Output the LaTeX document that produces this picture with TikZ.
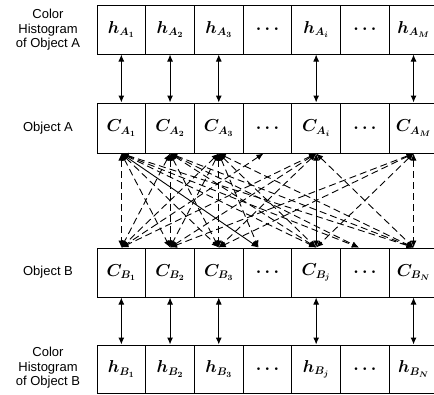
\documentclass[tikz,border=0pt]{standalone}
\usepackage{fontspec}
\setsansfont{Liberation Sans}
\usetikzlibrary{arrows.meta}

\tikzset{
  cell/.style={draw, line width=1pt, minimum width=48.7pt, minimum height=49pt,
               inner sep=0pt, font=\fontsize{16}{19}\selectfont\boldmath},
  rowlabel/.style={align=center, font=\sffamily\fontsize{13}{14.5}\selectfont},
  link/.style={line width=1pt, {Latex[length=7pt,width=6pt]}-{Latex[length=7pt,width=6pt]}},
  match/.style={line width=0.9pt, dash pattern=on 7pt off 4pt,
                {Latex[length=7pt,width=6pt]}-{Latex[length=7pt,width=6pt]}},
  sure/.style={line width=0.9pt,
               {Latex[length=7pt,width=6pt]}-{Latex[length=7pt,width=6pt]}},
}

\begin{document}
\begin{tikzpicture}[x=1pt, y=-1pt]
\useasboundingbox (0,0) rectangle (434,394);
\fill[white] (0,0) rectangle (434,394);

% row labels
\node[rowlabel] (lhA) at (48,30) {Color\\Histogram\\of Object A};
\node[rowlabel] (lcA) at (48,128) {Object A};
\node[rowlabel] (lcB) at (48,272) {Object B};
\node[rowlabel] (lhB) at (48,368) {Color\\Histogram\\of Object B};

% four rows of cells
\foreach \k/\ha/\ca/\cb/\hb in {
  1/{h_{A_1}}/{C_{A_1}}/{C_{B_1}}/{h_{B_1}},
  2/{h_{A_2}}/{C_{A_2}}/{C_{B_2}}/{h_{B_2}},
  3/{h_{A_3}}/{C_{A_3}}/{C_{B_3}}/{h_{B_3}},
  4/{\cdots}/{\cdots}/{\cdots}/{\cdots},
  5/{h_{A_i}}/{C_{A_i}}/{C_{B_j}}/{h_{B_j}},
  6/{\cdots}/{\cdots}/{\cdots}/{\cdots},
  7/{h_{A_M}}/{C_{A_M}}/{C_{B_N}}/{h_{B_N}}}
{
  \pgfmathsetmacro{\cx}{97+48.7*(\k-0.5)}
  \node[cell] (hA\k) at (\cx,29.5) {$\ha$};
  \node[cell, minimum height=50pt] (cA\k) at (\cx,128) {$\ca$};
  \node[cell] (cB\k) at (\cx,272.5) {$\cb$};
  \node[cell, minimum height=48pt] (hB\k) at (\cx,369) {$\hb$};
}

% histogram <-> colour links
\foreach \k in {1,2,3,5,7} {
  \draw[link] (hA\k.south) -- (cA\k.north);
  \draw[link] (cB\k.south) -- (hB\k.north);
}

% end points of the colour correspondences
\coordinate (ta1) at (cA1.south);
\coordinate (ta2) at (cA2.south);
\coordinate (ta3) at (cA3.south);
\coordinate (ta4) at ([xshift=-4pt]cA4.south);
\coordinate (tai) at (cA5.south);
\coordinate (tam) at (cA7.south);
\coordinate (bb1) at (cB1.north);
\coordinate (bb2) at (cB2.north);
\coordinate (bb3) at (cB3.north);
\coordinate (bb4) at ([xshift=-9pt]cB4.north);
\coordinate (bbj) at (cB5.north);
\coordinate (bb6) at ([xshift=-6pt]cB6.north);
\coordinate (bbn) at (cB7.north);

% candidate correspondences
\foreach \a/\b in {ta1/bb1, ta1/bb2, ta1/bb3, ta1/bbj, ta1/bb6, ta1/bbn,
                   ta2/bb1, ta2/bb2, ta2/bb3, ta2/bbj, ta2/bb6, ta2/bbn,
                   ta3/bb1, ta3/bb2, ta3/bb3, ta3/bb4, ta3/bbj, ta3/bbn,
                   ta4/bb1,
                   tai/bb1, tai/bb2, tai/bb3, tai/bbn,
                   tam/bb2, tam/bb3, tam/bbj, tam/bbn}
  \draw[match] (\a) -- (\b);

% confirmed correspondences
\draw[sure] (ta1) -- (bb4);
\draw[sure] (tai) -- (bbj);
\end{tikzpicture}
\end{document}
